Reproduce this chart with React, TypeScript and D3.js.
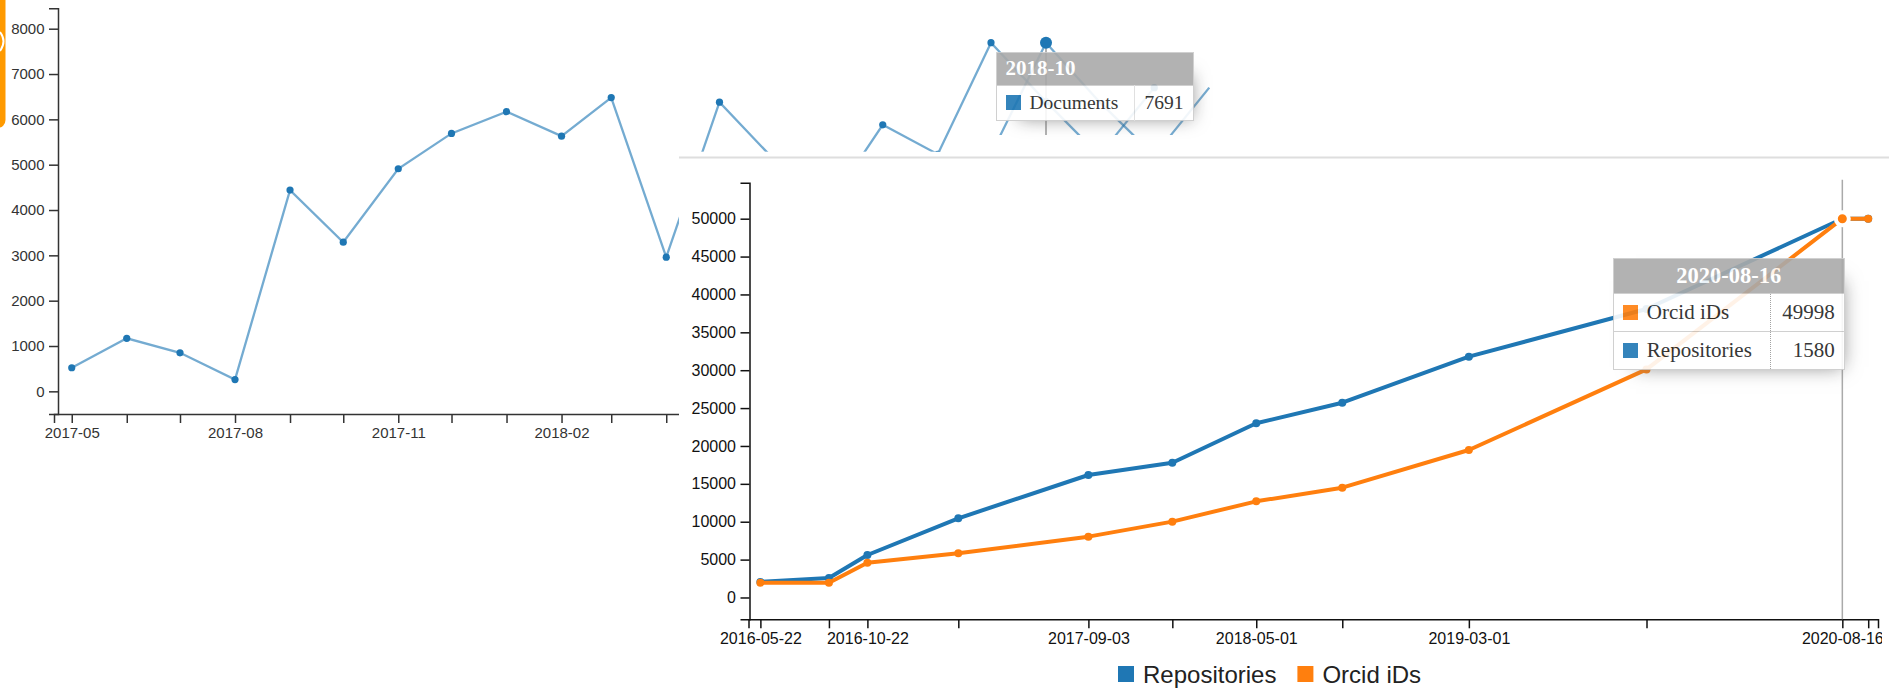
import React, { useEffect, useRef } from "react";
import * as d3 from "d3";

// ---- back chart: documents per month ----
const docMonths = [
  "2017-05", "2017-06", "2017-07", "2017-08", "2017-09", "2017-10", "2017-11",
  "2017-12", "2018-01", "2018-02", "2018-03", "2018-04", "2018-05", "2018-06",
  "2018-07", "2018-08", "2018-09", "2018-10", "2018-11", "2018-12", "2019-01",
];
const docValues = [
  520, 1170, 850, 260, 4440, 3290, 4910, 5690, 6170, 5630, 6480, 2960, 6380,
  5100, 4070, 5880, 5230, 7691, 6390, 5200, 6700,
];
const docYTicks = [0, 1000, 2000, 3000, 4000, 5000, 6000, 7000, 8000];
const docLabelEvery = 3;
const docGhostFrom = "2018-09"; // copy of the line caught mid-transition, one month on
const docHover = "2018-10";

// ---- front chart: cumulative growth ----
const growthDates = [
  "2016-05-22", "2016-08-28", "2016-10-22", "2017-03-01", "2017-09-03",
  "2018-01-01", "2018-05-01", "2018-09-01", "2019-03-01", "2019-11-10",
  "2020-08-16", "2020-09-22",
];
const repositories = [
  2050, 2570, 5610, 10450, 16170, 17790, 22990, 25710, 31790, 38080, 49998, 49998,
];
const orcidIds = [
  1950, 1950, 4590, 5830, 8030, 10010, 12690, 14490, 19470, 30100, 49998, 49998,
];
const growthLabelled = [
  "2016-05-22", "2016-10-22", "2017-09-03", "2018-05-01", "2019-03-01", "2020-08-16",
];
const growthYTicks = [
  0, 5000, 10000, 15000, 20000, 25000, 30000, 35000, 40000, 45000, 50000,
];
const growthHover = "2020-08-16";
const growthTooltip = [
  { name: "Orcid iDs", value: 49998 },
  { name: "Repositories", value: 1580 },
];

const BLUE = "#1f77b4";
const ORANGE = "#ff7f0e";
const SANS = "'Liberation Sans', Arial, sans-serif";
const SERIF = "'Liberation Serif', 'Times New Roman', serif";
const PANEL_LEFT = 679;

const parseMonth = d3.timeParse("%Y-%m");
const parseDay = d3.timeParse("%Y-%m-%d");
const fmtMonth = d3.timeFormat("%Y-%m");
const fmtDay = d3.timeFormat("%Y-%m-%d");
const fmtInt = d3.format("d");

const docDates = docMonths.map((m) => parseMonth(m) as Date);
const growthParsed = growthDates.map((d) => parseDay(d) as Date);

const backX = d3
  .scaleTime()
  .domain([
    d3.timeDay.offset(docDates[0], -10),
    d3.timeDay.offset(docDates[docDates.length - 1], 10),
  ])
  .range([54, 1172]);
const backY = d3.scaleLinear().domain([-500, 8450]).range([414, 8.3]);
const backAxisX = 58;

const frontX = d3
  .scaleTime()
  .domain([
    d3.timeDay.offset(growthParsed[0], -17),
    d3.timeDay.offset(growthParsed[growthParsed.length - 1], 14),
  ])
  .range([748.5, 1878]);
const frontY = d3.scaleLinear().domain([-2880, 54750]).range([619.3, 182.7]);

const hoverIdx = docMonths.indexOf(docHover);
const hoverPos = {
  x: backX(d3.timeMonth.offset(docDates[hoverIdx], 1)),
  y: backY(docValues[hoverIdx]),
};
const gIdx = growthDates.indexOf(growthHover);
const frontHoverPos = { x: frontX(growthParsed[gIdx]), y: frontY(orcidIds[gIdx]) };

const App: React.FC = () => {
  const svgRef = useRef<SVGSVGElement | null>(null);

  useEffect(() => {
    const svg = d3.select(svgRef.current);
    svg.selectAll("*").remove();

    const defs = svg.append("defs");
    defs.append("clipPath").attr("id", "front-clip")
      .append("rect").attr("x", PANEL_LEFT).attr("y", 0)
      .attr("width", 1882 - PANEL_LEFT).attr("height", 688);

    // clipped orange badge at the page edge
    svg.append("rect").attr("x", -20).attr("y", -10).attr("width", 25.5)
      .attr("height", 138).attr("rx", 8).attr("fill", "#ff9a00");
    svg.append("path").attr("d", "M0,32 Q7,41 0,51").attr("fill", "none")
      .attr("stroke", "#fff").attr("stroke-width", 2);

    // ---------- back chart ----------
    const back = svg.append("g");
    const styleAxis = (
      g: d3.Selection<SVGGElement, unknown, null, undefined>,
      color: string,
      size: number
    ) => {
      g.attr("font-size", size).attr("font-family", SANS).attr("color", color);
      g.selectAll("path, line").attr("stroke-width", 1.5);
    };

    const bx = back.append("g").attr("transform", "translate(0,414)")
      .call(
        d3.axisBottom(backX).tickValues(docDates).tickSize(9).tickPadding(4.5)
          .tickFormat((d, i) =>
            i % docLabelEvery === 0 && backX(d as Date) + 30 < PANEL_LEFT
              ? fmtMonth(d as Date)
              : ""
          )
      );
    styleAxis(bx, "#333", 15);
    const by = back.append("g").attr("transform", `translate(${backAxisX},0)`)
      .call(
        d3.axisLeft(backY).tickValues(docYTicks).tickSize(9).tickPadding(4.5)
          .tickFormat((d) => fmtInt(d as number))
      );
    styleAxis(by, "#333", 15);

    const docData = docDates.map((d, i) => ({ date: d, value: docValues[i] }));
    const ghost = docData
      .slice(docMonths.indexOf(docGhostFrom))
      .map((d) => ({ date: d3.timeMonth.offset(d.date, 1), value: d.value }));
    const docLine = d3.line<{ date: Date; value: number }>()
      .x((d) => backX(d.date)).y((d) => backY(d.value));

    [docData, ghost].forEach((data) => {
      back.append("path").datum(data).attr("d", docLine).attr("fill", "none")
        .attr("stroke", BLUE).attr("stroke-opacity", 0.62).attr("stroke-width", 2.3);
    });
    back.selectAll("circle.doc").data(docData).enter().append("circle")
      .attr("cx", (d) => backX(d.date)).attr("cy", (d) => backY(d.value))
      .attr("r", 3.6).attr("fill", BLUE);

    back.append("line").attr("x1", hoverPos.x).attr("x2", hoverPos.x)
      .attr("y1", hoverPos.y).attr("y2", backY.range()[0])
      .attr("stroke", "#999").attr("stroke-width", 1.5);
    back.append("circle").attr("cx", hoverPos.x).attr("cy", hoverPos.y)
      .attr("r", 6).attr("fill", BLUE);

    // blank strip under the back tooltip
    svg.append("rect").attr("x", 960).attr("y", 135).attr("width", 270)
      .attr("height", 24).attr("fill", "#fff");

    // ---------- front panel ----------
    svg.append("rect").attr("x", PANEL_LEFT).attr("y", 151.7).attr("width", 1889 - PANEL_LEFT)
      .attr("height", 688 - 151.7).attr("fill", "#fff");
    svg.append("line").attr("x1", PANEL_LEFT).attr("x2", 1889).attr("y1", 157.5)
      .attr("y2", 157.5).attr("stroke", "#dedede").attr("stroke-width", 2);

    const front = svg.append("g").attr("clip-path", "url(#front-clip)");
    const fx = front.append("g").attr("transform", `translate(0,${frontY.range()[0]})`)
      .call(
        d3.axisBottom(frontX).tickValues(growthParsed).tickSize(9).tickPadding(4.5)
          .tickFormat((d) => {
            const s = fmtDay(d as Date);
            return growthLabelled.includes(s) ? s : "";
          })
      );
    styleAxis(fx, "#111", 16);
    const fy = front.append("g").attr("transform", `translate(${frontX.range()[0] + 1},0)`)
      .call(
        d3.axisLeft(frontY).tickValues(growthYTicks).tickSize(9).tickPadding(4.5)
          .tickFormat((d) => fmtInt(d as number))
      );
    styleAxis(fy, "#111", 16);

    // hover guide
    front.append("line").attr("x1", frontHoverPos.x).attr("x2", frontHoverPos.x)
      .attr("y1", frontY.range()[1] - 3).attr("y2", frontY.range()[0])
      .attr("stroke", "#aaa").attr("stroke-width", 1.5);

    const series = [
      { name: "Repositories", values: repositories, color: BLUE },
      { name: "Orcid iDs", values: orcidIds, color: ORANGE },
    ];
    const gLine = d3.line<number>()
      .x((_, i) => frontX(growthParsed[i])).y((v) => frontY(v));
    series.forEach((s) => {
      front.append("path").datum(s.values).attr("d", gLine).attr("fill", "none")
        .attr("stroke", s.color).attr("stroke-width", 4).attr("stroke-linejoin", "round");
      front.selectAll(null).data(s.values).enter().append("circle")
        .attr("cx", (_, i) => frontX(growthParsed[i])).attr("cy", (v) => frontY(v))
        .attr("r", 4).attr("fill", s.color);
    });
    front.append("circle").attr("cx", frontHoverPos.x).attr("cy", frontHoverPos.y)
      .attr("r", 6.5).attr("fill", ORANGE).attr("stroke", "#fff").attr("stroke-width", 4);

    // legend
    const legend = svg.append("g").attr("font-family", SANS).attr("font-size", 24);
    let lx = 1118;
    series.forEach((s) => {
      legend.append("rect").attr("x", lx).attr("y", 666).attr("width", 16)
        .attr("height", 16).attr("fill", s.color);
      const t = legend.append("text").attr("x", lx + 25).attr("y", 683)
        .attr("fill", "#222").text(s.name);
      const w = (t.node() as SVGTextElement).getComputedTextLength();
      lx += 25 + w + 21;
    });
  }, []);

  const cell: React.CSSProperties = {
    fontSize: 19.5,
    padding: "0 9px",
    background: "#fff",
    color: "#222",
    whiteSpace: "nowrap",
  };
  const swatch = (c: string): React.CSSProperties => ({
    display: "inline-block",
    width: 15,
    height: 15,
    background: c,
    marginRight: 9,
    verticalAlign: "-1px",
  });
  const tableBase: React.CSSProperties = {
    position: "absolute",
    borderCollapse: "collapse",
    borderSpacing: 0,
    background: "#fff",
    opacity: 0.9,
    boxShadow: "10px 10px 18px -13px #777",
    fontFamily: SERIF,
  };

  return (
    <div
      style={{
        position: "absolute",
        left: 0,
        top: 0,
        width: 1889,
        height: 688,
        overflow: "hidden",
        background: "#fff",
      }}
    >
      <svg ref={svgRef} width={1889} height={688} style={{ position: "absolute", left: 0, top: 0 }} />

      <table style={{ ...tableBase, left: hoverPos.x - 50.5, top: hoverPos.y + 9, width: 198 }}>
        <tbody>
          <tr style={{ border: "1.5px solid #ccc" }}>
            <th colSpan={2} style={{ background: "#aaa", color: "#fff", fontSize: 21, height: 32, padding: "0 9px", textAlign: "left" }}>
              {docHover}
            </th>
          </tr>
          <tr style={{ border: "1.5px solid #ccc" }}>
            <td style={{ ...cell, height: 34, width: 119 }}>
              <span style={swatch(BLUE)} />Documents
            </td>
            <td style={{ ...cell, textAlign: "right", borderLeft: "1.5px solid #ddd" }}>
              {docValues[hoverIdx]}
            </td>
          </tr>
        </tbody>
      </table>

      <table style={{ ...tableBase, left: frontHoverPos.x - 229.5, top: frontHoverPos.y + 39.5, width: 232 }}>
        <tbody>
          <tr style={{ border: "1.5px solid #ccc" }}>
            <th colSpan={2} style={{ background: "#aaa", color: "#fff", fontSize: 22.5, height: 34, padding: "0 9px", textAlign: "center" }}>
              {growthHover}
            </th>
          </tr>
          {growthTooltip.map((r) => (
            <tr key={r.name} style={{ border: "1.5px solid #ccc" }}>
              <td style={{ ...cell, fontSize: 21, height: 37, width: 138 }}>
                <span style={swatch(r.name === "Orcid iDs" ? ORANGE : BLUE)} />
                {r.name}
              </td>
              <td style={{ ...cell, fontSize: 21, textAlign: "right", borderLeft: "1.5px dotted #999" }}>
                {r.value}
              </td>
            </tr>
          ))}
        </tbody>
      </table>
    </div>
  );
};

export default App;
